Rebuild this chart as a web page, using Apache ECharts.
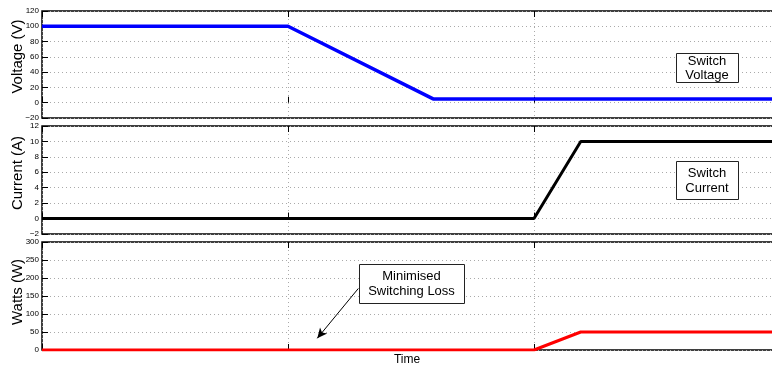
<!DOCTYPE html>
<html><head><meta charset="utf-8">
<script src="https://cdn.jsdelivr.net/npm/echarts@6/dist/echarts.min.js"></script>
<style>html,body{margin:0;padding:0;background:#fff}#c{width:772px;height:365px}</style>
</head><body><div id="c"></div>
<script>
// ---- data ----
const voltageTime = [0, 1, 1.59, 3];
const voltageValues = [100, 100, 5, 5];
const currentTime = [0, 2, 2.19, 3];
const currentValues = [0, 0, 10, 10];
const powerTime = [0, 2, 2.19, 3];
const powerValues = [0, 0, 50, 50];
const yNames = ['Voltage (V)', 'Current (A)', 'Watts (W)'];
const yMin = [-20, -2, 0];
const yMax = [120, 12, 300];
const yStep = [20, 2, 50];
const xMin = 0, xMax = 3, xStep = 1;
const xName = 'Time';
const boxTexts = ['Switch\nVoltage', 'Switch\nCurrent', 'Minimised\nSwitching Loss'];
const arrowFrom = [1.286, 171];
const arrowTo = [1.119, 32.5];

// ---- layout ----
const FONT = '"Liberation Sans", Arial, Helvetica, sans-serif';
const gridTops = [11, 126, 242];
const gridHeights = [107, 108, 108];
const nameShift = [16, 14, 8];
const colors = ['#0000ff', '#000000', '#ff0000'];
const widths = [3.5, 3, 3];
const seriesX = [voltageTime, currentTime, powerTime];
const seriesY = [voltageValues, currentValues, powerValues];

const zip = (a, b) => a.map((v, i) => [v, b[i]]);
const fmt = v => v < 0 ? '\u2212' + (-v) : String(v);

const grids = [], xAxes = [], yAxes = [], series = [];
for (let i = 0; i < 3; i++) {
  grids.push({left: 42, right: -8, top: gridTops[i], height: gridHeights[i],
    containLabel: false, outerBoundsMode: 'none',
    show: true, borderColor: '#000', borderWidth: 1.5, backgroundColor: '#fff'});
  const dotted = {show: true, lineStyle: {color: '#aaa', width: 1, type: [1, 3]}};
  xAxes.push({type: 'value', gridIndex: i, position: 'bottom', min: xMin, max: xMax, interval: xStep,
    axisLine: {show: false}, axisLabel: {show: false},
    axisTick: {show: true, inside: true, length: 6, lineStyle: {color: '#000', width: 1}},
    splitLine: dotted,
    name: i === 2 ? xName : '', nameLocation: 'middle', nameGap: 4, nameMoveOverlap: false,
    nameTextStyle: {fontFamily: FONT, fontSize: 12, color: '#000', verticalAlign: 'top', padding: [0, 8, 0, 0]}});
  xAxes.push({type: 'value', gridIndex: i, position: 'top', min: xMin, max: xMax, interval: xStep,
    axisLine: {show: false}, axisLabel: {show: false}, splitLine: {show: false},
    axisTick: {show: true, inside: true, length: 6, lineStyle: {color: '#000', width: 1}}});
  yAxes.push({type: 'value', gridIndex: i, min: yMin[i], max: yMax[i], interval: yStep[i],
    axisLine: {show: false},
    axisTick: {show: true, inside: true, length: 6, lineStyle: {color: '#000', width: 1}},
    axisLabel: {fontFamily: FONT, fontSize: 8, color: '#000', margin: 3, formatter: fmt},
    splitLine: dotted,
    name: yNames[i], nameLocation: 'middle', nameGap: 17, nameRotate: 90, nameMoveOverlap: false,
    nameTextStyle: {fontFamily: FONT, fontSize: 15, color: '#000', padding: [0, 0, 0, nameShift[i]]}});
  const s = {type: 'line', xAxisIndex: 2 * i, yAxisIndex: i, data: zip(seriesX[i], seriesY[i]),
    symbol: 'none', silent: true, lineStyle: {color: colors[i], width: widths[i]}, z: 5};
  if (i === 2) {
    s.markLine = {silent: true, symbol: ['none', 'arrow'], symbolSize: [7, 10],
      label: {show: false}, lineStyle: {color: '#000', width: 1, type: 'solid'},
      data: [[{coord: arrowFrom}, {coord: arrowTo}]]};
  }
  series.push(s);
}

const box = (x, y, w, h, text, lh) => [
  {type: 'rect', shape: {x: x + 0.5, y: y + 0.5, width: w, height: h}, style: {fill: '#fff', stroke: '#222', lineWidth: 1}, z: 100},
  {type: 'text', x: x + w / 2, y: y + h / 2 + 0.5, style: {text: text, font: '13px ' + FONT, fill: '#000', align: 'center', verticalAlign: 'middle', lineHeight: lh}, z: 101}
];

const chart = echarts.init(document.getElementById('c'));
chart.setOption({
  animation: false,
  backgroundColor: '#fff',
  grid: grids, xAxis: xAxes, yAxis: yAxes, series: series,
  graphic: [].concat(
    box(676, 53, 62, 29, boxTexts[0], 14),
    box(676, 161, 62, 38, boxTexts[1], 15),
    box(359, 264, 105, 39, boxTexts[2], 14.5)
  )
});
</script></body></html>
